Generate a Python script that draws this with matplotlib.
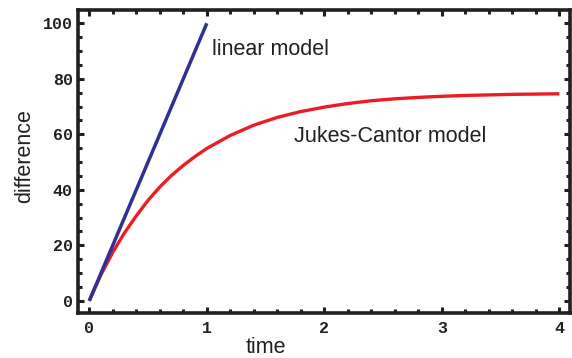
import matplotlib
matplotlib.use("Agg")
import matplotlib.pyplot as plt
from matplotlib.ticker import MultipleLocator

# Data
linear_time = [0.0, 1.0]
linear_diff = [0.0, 100.0]

jc_time = [0.0, 0.1, 0.2, 0.3, 0.4, 0.5, 0.6, 0.7, 0.8, 0.9, 1.0,
           1.2, 1.4, 1.6, 1.8, 2.0, 2.2, 2.4, 2.6, 2.8, 3.0,
           3.2, 3.4, 3.6, 3.8, 4.0]
jc_diff = [0.0, 9.4, 17.5, 24.5, 30.6, 36.2, 41.0, 45.2, 48.8, 52.0, 54.9,
           59.6, 63.3, 66.1, 68.2, 69.8, 71.1, 72.1, 72.8, 73.3, 73.7,
           74.0, 74.2, 74.4, 74.5, 74.6]

x_ticks = [0, 1, 2, 3, 4]
y_ticks = [0, 20, 40, 60, 80, 100]

TEXT = "#231f20"
BLUE = "#2e3192"
RED = "#ed1c24"

fig = plt.figure(figsize=(5.72, 3.58), dpi=100)
ax = fig.add_axes([77.5 / 572, 45 / 358, 492.5 / 572, 303 / 358])

ax.plot(linear_time, linear_diff, color=BLUE, lw=2.5, solid_capstyle="butt", zorder=3)
ax.plot(jc_time, jc_diff, color=RED, lw=2.4, solid_capstyle="butt",
        solid_joinstyle="round", zorder=2)

ax.set_xlim(-0.1, 4.09)
ax.set_ylim(-4.4, 104.8)

ax.set_xticks(x_ticks)
ax.set_yticks(y_ticks)
ax.xaxis.set_minor_locator(MultipleLocator(0.2))
ax.yaxis.set_minor_locator(MultipleLocator(5))

for s in ax.spines.values():
    s.set_linewidth(2.6)
    s.set_color("#231f20")

ax.tick_params(which="both", direction="in", top=True, right=True,
               color="#231f20", width=2.2)
ax.tick_params(which="major", length=4)
ax.tick_params(which="minor", length=3)
ax.tick_params(axis="x", which="major", pad=6)
ax.tick_params(axis="y", which="major", pad=3.5)

for lab in ax.get_xticklabels() + ax.get_yticklabels():
    lab.set_fontfamily("Liberation Mono")
    lab.set_fontweight("bold")
    lab.set_fontsize(12)
    lab.set_color(TEXT)

ax.text(1.042, 88.6, "linear model", ha="left", va="baseline",
        fontfamily="Liberation Sans", fontsize=15.5, color=TEXT)
ax.text(1.742, 57.3, "Jukes-Cantor model", ha="left", va="baseline",
        fontfamily="Liberation Sans", fontsize=15.5, color=TEXT)

fig.text(266 / 572, (358 - 353) / 358, "time", ha="center", va="baseline",
         fontfamily="Liberation Sans", fontsize=15.5, color=TEXT)
fig.text(30 / 572, (358 - 156) / 358, "difference", ha="center", va="baseline",
         rotation=90, rotation_mode="anchor",
         fontfamily="Liberation Sans", fontsize=15.5, color=TEXT)

fig.savefig("out.png", dpi=100)
